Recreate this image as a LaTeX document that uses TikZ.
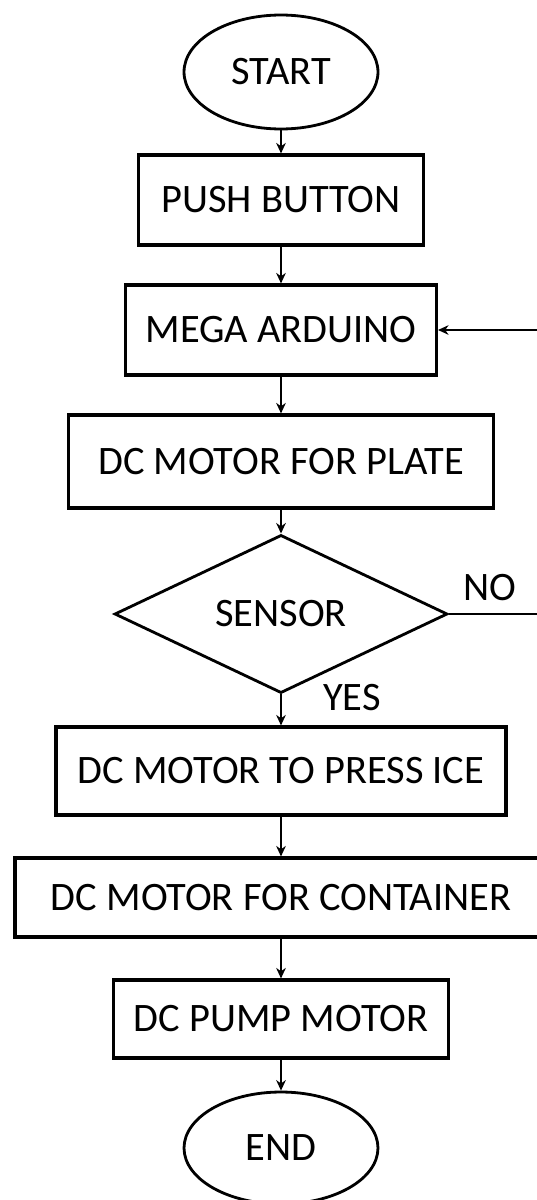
\documentclass[tikz,border=0pt]{standalone}
\usepackage{fontspec}
\setmainfont{Carlito}
\usetikzlibrary{shapes.geometric,arrows.meta}
\begin{document}
\begin{tikzpicture}[x=0.02cm, y=-0.02cm]

	\def\fsize{\fontsize{23}{27}\selectfont}
	\def\edge{545}
	\def\cx{281}

	% Colours
	\colorlet{linecolor}{black}
	\colorlet{textcolor}{black}

	% Styles
	\tikzstyle{block}=[draw=linecolor, line width=1.8pt, rectangle, inner sep=0pt, text=textcolor, font=\fsize]
	\tikzstyle{terminal}=[draw=linecolor, line width=1.6pt, ellipse, inner sep=0pt, text=textcolor, font=\fsize]
	\tikzstyle{decision}=[draw=linecolor, line width=1.6pt, diamond, inner sep=0pt, text=textcolor, font=\fsize]
	\tikzstyle{flow}=[draw=linecolor, line width=0.9pt, -{Stealth[length=6pt, width=5.5pt]}]
	\tikzstyle{answer}=[text=textcolor, font=\fsize]

	\useasboundingbox (0,0) rectangle (537,1200);

	% Blocks
	\node[terminal, minimum width=3.88cm, minimum height=2.28cm] (start) at (\cx,72) {START};
	\node[block, minimum width=5.7cm, minimum height=1.8cm] (push) at (\cx,200) {PUSH BUTTON};
	\node[block, minimum width=6.22cm, minimum height=1.8cm] (mega) at (\cx,330) {MEGA ARDUINO};
	\node[block, minimum width=8.5cm, minimum height=1.86cm] (plate) at (\cx,461.5) {DC MOTOR FOR PLATE};
	\node[decision, minimum width=6.66cm, minimum height=3.04cm] (sensor) at (\cx,614) {SENSOR};
	\node[block, minimum width=9cm, minimum height=1.76cm] (press) at (\cx,771) {DC MOTOR TO PRESS ICE};
	\node[block, minimum width=10.64cm, minimum height=1.58cm] (container) at (\cx,897.5) {DC MOTOR FOR CONTAINER};
	\node[block, minimum width=6.7cm, minimum height=1.56cm] (pump) at (\cx,1019) {DC PUMP MOTOR};
	\node[terminal, minimum width=3.88cm, minimum height=2.24cm] (end) at (\cx,1148) {END};

	% Main flow
	\draw[flow] (start) -- (push);
	\draw[flow] (push) -- (mega);
	\draw[flow] (mega) -- (plate);
	\draw[flow] (plate) -- (sensor);
	\draw[flow] (sensor) -- (press);
	\draw[flow] (press) -- (container);
	\draw[flow] (container) -- (pump);
	\draw[flow] (pump) -- (end);

	% Loop back
	\coordinate (loopa) at (\edge,614);
	\coordinate (loopb) at (\edge,330);
	\draw[flow] (sensor.east) -- (loopa) -- (loopb) -- (mega.east);

	% Answers
	\node[answer] (no) at (490,588) {NO};
	\node[answer] (yes) at (352,698) {YES};

\end{tikzpicture}
\end{document}
